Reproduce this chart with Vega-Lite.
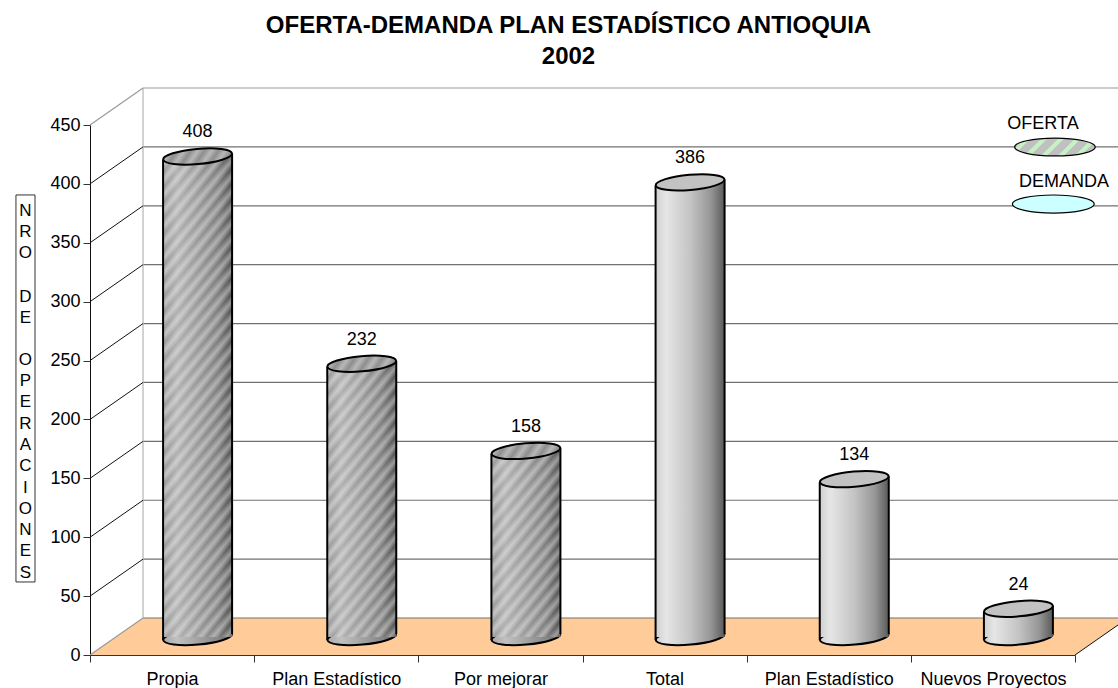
{
"$schema":"https://vega.github.io/schema/vega-lite/v6.json",
"width":985,"height":530,
"autosize":{"type":"none"},
"padding":{"left":90,"top":125,"right":43,"bottom":33},
"background":"white",
"config":{"font":"Liberation Sans","view":{"stroke":null}},
"title":{"text":["OFERTA-DEMANDA PLAN ESTADÍSTICO ANTIOQUIA","2002"],"font":"Liberation Sans","fontSize":24,"fontWeight":"bold","color":"black","anchor":"middle","frame":"group","dx":-14,"lineHeight":31,"offset":18},
"datasets":{
"ticks":[{"v":0,"back":31.4},{"v":50,"back":81.4},{"v":100,"back":131.4},{"v":150,"back":181.4},{"v":200,"back":231.4},{"v":250,"back":281.4},{"v":300,"back":331.4},{"v":350,"back":381.4},{"v":400,"back":431.4},{"v":450,"back":481.4}],
"floor":[{"x":0,"low":0,"high":0},{"x":0.323,"low":0,"high":31.4},{"x":6,"low":0,"high":31.4},{"x":6.262,"low":25.5,"high":31.4}],
"bars":[
{"key":"Oferta · Propia","serie":"OFERTA","value":408},
{"key":"Oferta · Plan Estadístico","serie":"OFERTA","value":232},
{"key":"Oferta · Por mejorar","serie":"OFERTA","value":158},
{"key":"Demanda · Total","serie":"DEMANDA","value":386},
{"key":"Demanda · Plan Estadístico","serie":"DEMANDA","value":134},
{"key":"Demanda · Nuevos Proyectos","serie":"DEMANDA","value":24}
],
"legend":[{"serie":"OFERTA","x":5.878,"y":431.3,"tx":5.805,"ty":450.8},{"serie":"DEMANDA","x":5.868,"y":382.9,"tx":5.933,"ty":401.6}]
},
"layer":[
{"layer":[
{"data":{"name":"ticks"},"mark":{"type":"rule","color":"#9a9a9a","strokeWidth":1.2},"transform":[{"filter":"datum.v==450"}],"encoding":{"x":{"datum":0.323,"type":"quantitative","scale":{"domain":[0,6],"nice":false,"zero":false},"axis":null},"x2":{"datum":6.262},"y":{"field":"back","type":"quantitative","scale":{"domain":[0,450],"nice":false,"zero":false},"axis":{"values":[0,50,100,150,200,250,300,350,400,450],"title":null,"grid":false,"tickColor":"#333","domainColor":"#111","tickSize":7,"labelFontSize":18,"labelColor":"black","labelPadding":3,"labelFont":"Liberation Sans"}}}},
{"data":{"name":"floor"},"mark":{"type":"area","color":"#ffcc99","opacity":1},"encoding":{"x":{"field":"x","type":"quantitative"},"y":{"field":"low","type":"quantitative"},"y2":{"field":"high"}}},
{"data":{"name":"ticks"},"mark":{"type":"rule","color":"#707070","strokeWidth":1.2},"transform":[{"filter":"datum.v<450"}],"encoding":{"x":{"datum":0.323,"type":"quantitative"},"x2":{"datum":6.262},"y":{"field":"back","type":"quantitative"}}},
{"data":{"values":[{"a":0}]},"mark":{"type":"rule","color":"#b5b5b5","strokeWidth":1.2},"encoding":{"x":{"datum":0.323,"type":"quantitative"},"y":{"datum":31.4,"type":"quantitative"},"y2":{"datum":481.4}}},
{"data":{"name":"ticks"},"mark":{"type":"rule","color":"#111","strokeWidth":1},"transform":[{"filter":"datum.v>0 && datum.v<450"}],"encoding":{"x":{"datum":0,"type":"quantitative"},"x2":{"datum":0.323},"y":{"field":"v","type":"quantitative"},"y2":{"field":"back"}}},
{"data":{"name":"ticks"},"mark":{"type":"rule","color":"#9a9a9a","strokeWidth":1.2},"transform":[{"filter":"datum.v==0 || datum.v==450"}],"encoding":{"x":{"datum":0,"type":"quantitative"},"x2":{"datum":0.323},"y":{"field":"v","type":"quantitative"},"y2":{"field":"back"}}},
{"data":{"values":[{"a":0}]},"mark":{"type":"rule","color":"#111","strokeWidth":1},"encoding":{"x":{"datum":6,"type":"quantitative"},"x2":{"datum":6.262},"y":{"datum":0,"type":"quantitative"},"y2":{"datum":25.5}}},
{"data":{"name":"legend"},"transform":[{"filter":"datum.serie=='OFERTA'"}],"mark":{"type":"point","filled":true,"size":6500,"shape":"M-1,0A1,0.22 0 1,1 1,0A1,0.22 0 1,1 -1,0Z","stroke":"black","strokeWidth":1.2,"opacity":1,"fill":{"gradient":"linear","x1":0,"y1":0,"x2":1.17,"y2":0.26,"stops":[{"offset":0,"color":"#c0c0c0"},{"offset":0.1,"color":"#c0c0c0"},{"offset":0.11,"color":"#c6f0c6"},{"offset":0.16,"color":"#c6f0c6"},{"offset":0.17,"color":"#c0c0c0"},{"offset":0.27,"color":"#c0c0c0"},{"offset":0.28,"color":"#c6f0c6"},{"offset":0.33,"color":"#c6f0c6"},{"offset":0.34,"color":"#c0c0c0"},{"offset":0.44,"color":"#c0c0c0"},{"offset":0.45,"color":"#c6f0c6"},{"offset":0.5,"color":"#c6f0c6"},{"offset":0.51,"color":"#c0c0c0"},{"offset":0.61,"color":"#c0c0c0"},{"offset":0.62,"color":"#c6f0c6"},{"offset":0.67,"color":"#c6f0c6"},{"offset":0.68,"color":"#c0c0c0"},{"offset":0.78,"color":"#c0c0c0"},{"offset":0.79,"color":"#c6f0c6"},{"offset":0.84,"color":"#c6f0c6"},{"offset":0.85,"color":"#c0c0c0"},{"offset":1,"color":"#c0c0c0"}]}},"encoding":{"x":{"field":"x","type":"quantitative"},"y":{"field":"y","type":"quantitative"}}},
{"data":{"name":"legend"},"transform":[{"filter":"datum.serie=='DEMANDA'"}],"mark":{"type":"point","filled":true,"size":6700,"shape":"M-1,0A1,0.22 0 1,1 1,0A1,0.22 0 1,1 -1,0Z","stroke":"black","strokeWidth":1.2,"opacity":1,"fill":"#ccffff"},"encoding":{"x":{"field":"x","type":"quantitative"},"y":{"field":"y","type":"quantitative"}}},
{"data":{"name":"legend"},"mark":{"type":"text","fontSize":18,"color":"black"},"encoding":{"x":{"field":"tx","type":"quantitative"},"y":{"field":"ty","type":"quantitative"},"text":{"field":"serie"}}},
{"data":{"values":[{"a":0}]},"mark":{"type":"rect","fill":"white","stroke":"#333","strokeWidth":1},"encoding":{"x":{"datum":-0.451,"type":"quantitative"},"x2":{"datum":-0.335},"y":{"datum":62,"type":"quantitative"},"y2":{"datum":390.6}}},
{"data":{"values":[{"a":0}]},"mark":{"type":"text","fontSize":17,"color":"black","lineHeight":21.3,"baseline":"top","text":["N","R","O"]},"encoding":{"x":{"datum":-0.393,"type":"quantitative"},"y":{"datum":384,"type":"quantitative"}}},
{"data":{"values":[{"a":0}]},"mark":{"type":"text","fontSize":17,"color":"black","lineHeight":21.3,"baseline":"top","text":["D","E"]},"encoding":{"x":{"datum":-0.393,"type":"quantitative"},"y":{"datum":311,"type":"quantitative"}}},
{"data":{"values":[{"a":0}]},"mark":{"type":"text","fontSize":17,"color":"black","lineHeight":21.3,"baseline":"top","text":["O","P","E","R","A","C","I","O","N","E","S"]},"encoding":{"x":{"datum":-0.393,"type":"quantitative"},"y":{"datum":257.5,"type":"quantitative"}}}
]},
{"data":{"name":"bars"},"layer":[
{"transform":[{"filter":"datum.serie=='OFERTA'"}],"mark":{"type":"point","filled":true,"size":4761,"shape":"M-1,0A1,0.22 0 1,1 1,0A1,0.22 0 1,1 -1,0Z","stroke":"black","strokeWidth":2,"opacity":1,"angle":-5,"xOffset":25.5,"yOffset":-18,"fill":{"gradient":"linear","x1":0,"y1":0,"x2":1,"y2":0,"stops":[{"offset":0,"color":"#a8a8a8"},{"offset":0.2,"color":"#c0c0c0"},{"offset":0.5,"color":"#a4a4a4"},{"offset":0.8,"color":"#868686"},{"offset":1,"color":"#5c5c5c"}]}},"encoding":{"x":{"field":"key","type":"nominal","sort":null,"scale":{"domain":["Oferta · Propia","Oferta · Plan Estadístico","Oferta · Por mejorar","Demanda · Total","Demanda · Plan Estadístico","Demanda · Nuevos Proyectos"],"paddingInner":0,"paddingOuter":0},"axis":{"orient":"bottom","title":null,"labelExpr":"split(datum.label,' · ')[1]","labelAngle":0,"labelFontSize":18,"labelColor":"black","labelPadding":8,"tickBand":"extent","tickSize":7,"tickColor":"#333","domainColor":"#333","labelFont":"Liberation Sans"}},"y":{"datum":0,"type":"quantitative"}}},
{"transform":[{"filter":"datum.serie=='DEMANDA'"}],"mark":{"type":"point","filled":true,"size":4761,"shape":"M-1,0A1,0.22 0 1,1 1,0A1,0.22 0 1,1 -1,0Z","stroke":"black","strokeWidth":2,"opacity":1,"angle":-5,"xOffset":25.5,"yOffset":-18,"fill":{"gradient":"linear","x1":0,"y1":0,"x2":1,"y2":0,"stops":[{"offset":0,"color":"#cfcfcf"},{"offset":0.15,"color":"#e6e6e6"},{"offset":0.5,"color":"#c4c4c4"},{"offset":0.8,"color":"#969696"},{"offset":1,"color":"#5a5a5a"}]}},"encoding":{"x":{"field":"key","type":"nominal"},"y":{"datum":0,"type":"quantitative"}}},
{"transform":[{"filter":"datum.serie=='OFERTA'"}],"mark":{"type":"bar","size":69,"xOffset":25.5,"yOffset":-18,"y2Offset":-18,"fill":{"gradient":"linear","x1":0,"y1":0,"x2":1,"y2":0,"stops":[{"offset":0,"color":"#989898"},{"offset":0.2,"color":"#b0b0b0"},{"offset":0.5,"color":"#989898"},{"offset":0.8,"color":"#7c7c7c"},{"offset":1,"color":"#505050"}]}},"encoding":{"x":{"field":"key","type":"nominal"},"y":{"field":"value","type":"quantitative"},"y2":{"datum":0}}},
{"transform":[{"filter":"datum.key=='Oferta · Propia'"}],"mark":{"type":"bar","size":69,"xOffset":25.5,"yOffset":-18,"y2Offset":-18,"fill":{"gradient":"linear","x1":0,"y1":0,"x2":0.196,"y2":1.14,"stops":[{"offset":0,"color":"#fff0"},{"offset":0.014,"color":"#fff6"},{"offset":0.028,"color":"#fff0"},{"offset":0.042,"color":"#fff6"},{"offset":0.056,"color":"#fff0"},{"offset":0.069,"color":"#fff6"},{"offset":0.083,"color":"#fff0"},{"offset":0.097,"color":"#fff6"},{"offset":0.111,"color":"#fff0"},{"offset":0.125,"color":"#fff6"},{"offset":0.139,"color":"#fff0"},{"offset":0.153,"color":"#fff6"},{"offset":0.167,"color":"#fff0"},{"offset":0.181,"color":"#fff6"},{"offset":0.194,"color":"#fff0"},{"offset":0.208,"color":"#fff6"},{"offset":0.222,"color":"#fff0"},{"offset":0.236,"color":"#fff6"},{"offset":0.25,"color":"#fff0"},{"offset":0.264,"color":"#fff6"},{"offset":0.278,"color":"#fff0"},{"offset":0.292,"color":"#fff6"},{"offset":0.306,"color":"#fff0"},{"offset":0.319,"color":"#fff6"},{"offset":0.333,"color":"#fff0"},{"offset":0.347,"color":"#fff6"},{"offset":0.361,"color":"#fff0"},{"offset":0.375,"color":"#fff6"},{"offset":0.389,"color":"#fff0"},{"offset":0.403,"color":"#fff6"},{"offset":0.417,"color":"#fff0"},{"offset":0.431,"color":"#fff6"},{"offset":0.444,"color":"#fff0"},{"offset":0.458,"color":"#fff6"},{"offset":0.472,"color":"#fff0"},{"offset":0.486,"color":"#fff6"},{"offset":0.5,"color":"#fff0"},{"offset":0.514,"color":"#fff6"},{"offset":0.528,"color":"#fff0"},{"offset":0.542,"color":"#fff6"},{"offset":0.556,"color":"#fff0"},{"offset":0.569,"color":"#fff6"},{"offset":0.583,"color":"#fff0"},{"offset":0.597,"color":"#fff6"},{"offset":0.611,"color":"#fff0"},{"offset":0.625,"color":"#fff6"},{"offset":0.639,"color":"#fff0"},{"offset":0.653,"color":"#fff6"},{"offset":0.667,"color":"#fff0"},{"offset":0.681,"color":"#fff6"},{"offset":0.694,"color":"#fff0"},{"offset":0.708,"color":"#fff6"},{"offset":0.722,"color":"#fff0"},{"offset":0.736,"color":"#fff6"},{"offset":0.75,"color":"#fff0"},{"offset":0.764,"color":"#fff6"},{"offset":0.778,"color":"#fff0"},{"offset":0.792,"color":"#fff6"},{"offset":0.806,"color":"#fff0"},{"offset":0.819,"color":"#fff6"},{"offset":0.833,"color":"#fff0"},{"offset":0.847,"color":"#fff6"},{"offset":0.861,"color":"#fff0"},{"offset":0.875,"color":"#fff6"},{"offset":0.889,"color":"#fff0"},{"offset":0.903,"color":"#fff6"},{"offset":0.917,"color":"#fff0"},{"offset":0.931,"color":"#fff6"},{"offset":0.944,"color":"#fff0"},{"offset":0.958,"color":"#fff6"},{"offset":0.972,"color":"#fff0"},{"offset":0.986,"color":"#fff6"},{"offset":1,"color":"#fff0"}]}},"encoding":{"x":{"field":"key","type":"nominal"},"y":{"field":"value","type":"quantitative"},"y2":{"datum":0}}},
{"transform":[{"filter":"datum.key=='Oferta · Plan Estadístico'"}],"mark":{"type":"bar","size":69,"xOffset":25.5,"yOffset":-18,"y2Offset":-18,"fill":{"gradient":"linear","x1":0,"y1":0,"x2":0.358,"y2":1.193,"stops":[{"offset":0,"color":"#fff0"},{"offset":0.022,"color":"#fff6"},{"offset":0.043,"color":"#fff0"},{"offset":0.065,"color":"#fff6"},{"offset":0.087,"color":"#fff0"},{"offset":0.109,"color":"#fff6"},{"offset":0.13,"color":"#fff0"},{"offset":0.152,"color":"#fff6"},{"offset":0.174,"color":"#fff0"},{"offset":0.196,"color":"#fff6"},{"offset":0.217,"color":"#fff0"},{"offset":0.239,"color":"#fff6"},{"offset":0.261,"color":"#fff0"},{"offset":0.283,"color":"#fff6"},{"offset":0.304,"color":"#fff0"},{"offset":0.326,"color":"#fff6"},{"offset":0.348,"color":"#fff0"},{"offset":0.37,"color":"#fff6"},{"offset":0.391,"color":"#fff0"},{"offset":0.413,"color":"#fff6"},{"offset":0.435,"color":"#fff0"},{"offset":0.457,"color":"#fff6"},{"offset":0.478,"color":"#fff0"},{"offset":0.5,"color":"#fff6"},{"offset":0.522,"color":"#fff0"},{"offset":0.543,"color":"#fff6"},{"offset":0.565,"color":"#fff0"},{"offset":0.587,"color":"#fff6"},{"offset":0.609,"color":"#fff0"},{"offset":0.63,"color":"#fff6"},{"offset":0.652,"color":"#fff0"},{"offset":0.674,"color":"#fff6"},{"offset":0.696,"color":"#fff0"},{"offset":0.717,"color":"#fff6"},{"offset":0.739,"color":"#fff0"},{"offset":0.761,"color":"#fff6"},{"offset":0.783,"color":"#fff0"},{"offset":0.804,"color":"#fff6"},{"offset":0.826,"color":"#fff0"},{"offset":0.848,"color":"#fff6"},{"offset":0.87,"color":"#fff0"},{"offset":0.891,"color":"#fff6"},{"offset":0.913,"color":"#fff0"},{"offset":0.935,"color":"#fff6"},{"offset":0.957,"color":"#fff0"},{"offset":0.978,"color":"#fff6"},{"offset":1,"color":"#fff0"}]}},"encoding":{"x":{"field":"key","type":"nominal"},"y":{"field":"value","type":"quantitative"},"y2":{"datum":0}}},
{"transform":[{"filter":"datum.key=='Oferta · Por mejorar'"}],"mark":{"type":"bar","size":69,"xOffset":25.5,"yOffset":-18,"y2Offset":-18,"fill":{"gradient":"linear","x1":0,"y1":0,"x2":0.531,"y2":1.206,"stops":[{"offset":0,"color":"#fff0"},{"offset":0.029,"color":"#fff6"},{"offset":0.059,"color":"#fff0"},{"offset":0.088,"color":"#fff6"},{"offset":0.118,"color":"#fff0"},{"offset":0.147,"color":"#fff6"},{"offset":0.176,"color":"#fff0"},{"offset":0.206,"color":"#fff6"},{"offset":0.235,"color":"#fff0"},{"offset":0.265,"color":"#fff6"},{"offset":0.294,"color":"#fff0"},{"offset":0.324,"color":"#fff6"},{"offset":0.353,"color":"#fff0"},{"offset":0.382,"color":"#fff6"},{"offset":0.412,"color":"#fff0"},{"offset":0.441,"color":"#fff6"},{"offset":0.471,"color":"#fff0"},{"offset":0.5,"color":"#fff6"},{"offset":0.529,"color":"#fff0"},{"offset":0.559,"color":"#fff6"},{"offset":0.588,"color":"#fff0"},{"offset":0.618,"color":"#fff6"},{"offset":0.647,"color":"#fff0"},{"offset":0.676,"color":"#fff6"},{"offset":0.706,"color":"#fff0"},{"offset":0.735,"color":"#fff6"},{"offset":0.765,"color":"#fff0"},{"offset":0.794,"color":"#fff6"},{"offset":0.824,"color":"#fff0"},{"offset":0.853,"color":"#fff6"},{"offset":0.882,"color":"#fff0"},{"offset":0.912,"color":"#fff6"},{"offset":0.941,"color":"#fff0"},{"offset":0.971,"color":"#fff6"},{"offset":1,"color":"#fff0"}]}},"encoding":{"x":{"field":"key","type":"nominal"},"y":{"field":"value","type":"quantitative"},"y2":{"datum":0}}},
{"transform":[{"filter":"datum.serie=='DEMANDA'"}],"mark":{"type":"bar","size":69,"xOffset":25.5,"yOffset":-18,"y2Offset":-18,"fill":{"gradient":"linear","x1":0,"y1":0,"x2":1,"y2":0,"stops":[{"offset":0,"color":"#cfcfcf"},{"offset":0.15,"color":"#e6e6e6"},{"offset":0.5,"color":"#c4c4c4"},{"offset":0.8,"color":"#969696"},{"offset":1,"color":"#5a5a5a"}]}},"encoding":{"x":{"field":"key","type":"nominal"},"y":{"field":"value","type":"quantitative"},"y2":{"datum":0}}},
{"mark":{"type":"rule","color":"black","strokeWidth":2,"xOffset":-9,"yOffset":-15,"y2Offset":-15},"encoding":{"x":{"field":"key","type":"nominal"},"y":{"field":"value","type":"quantitative"},"y2":{"datum":0}}},
{"mark":{"type":"rule","color":"black","strokeWidth":2,"xOffset":60,"yOffset":-21,"y2Offset":-21},"encoding":{"x":{"field":"key","type":"nominal"},"y":{"field":"value","type":"quantitative"},"y2":{"datum":0}}},
{"transform":[{"filter":"datum.serie=='OFERTA'"}],"mark":{"type":"point","filled":true,"size":4761,"shape":"M-1,0A1,0.22 0 1,1 1,0A1,0.22 0 1,1 -1,0Z","stroke":"black","strokeWidth":2,"opacity":1,"angle":-5,"xOffset":25.5,"yOffset":-18,"fill":{"gradient":"linear","x1":0,"y1":0,"x2":1.146,"y2":0.206,"stops":[{"offset":0,"color":"#8e8e8e"},{"offset":0.09,"color":"#b8b8b8"},{"offset":0.18,"color":"#8e8e8e"},{"offset":0.27,"color":"#b8b8b8"},{"offset":0.36,"color":"#8e8e8e"},{"offset":0.45,"color":"#b8b8b8"},{"offset":0.54,"color":"#8e8e8e"},{"offset":0.63,"color":"#b8b8b8"},{"offset":0.72,"color":"#8e8e8e"},{"offset":0.81,"color":"#b8b8b8"},{"offset":0.9,"color":"#8e8e8e"},{"offset":1,"color":"#b8b8b8"}]}},"encoding":{"x":{"field":"key","type":"nominal"},"y":{"field":"value","type":"quantitative"}}},
{"transform":[{"filter":"datum.serie=='DEMANDA'"}],"mark":{"type":"point","filled":true,"size":4761,"shape":"M-1,0A1,0.22 0 1,1 1,0A1,0.22 0 1,1 -1,0Z","fill":"#c2c2c2","stroke":"black","strokeWidth":2,"opacity":1,"angle":-5,"xOffset":25.5,"yOffset":-18},"encoding":{"x":{"field":"key","type":"nominal"},"y":{"field":"value","type":"quantitative"}}},
{"mark":{"type":"text","fontSize":18,"color":"black","dx":25.5,"dy":-42},"encoding":{"x":{"field":"key","type":"nominal"},"y":{"field":"value","type":"quantitative"},"text":{"field":"value","type":"quantitative"}}}
]}
],
"resolve":{"scale":{"x":"independent"}}
}
